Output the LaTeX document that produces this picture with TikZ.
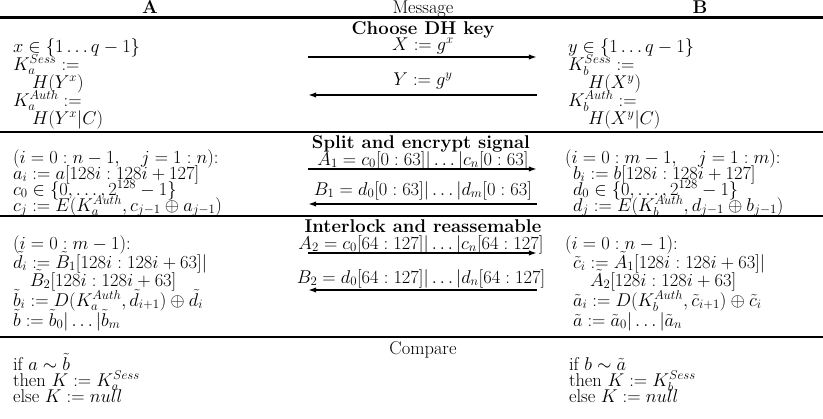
\documentclass[tikz,border=0pt]{standalone}
\usepackage{amsmath}
\usetikzlibrary{arrows.meta}
\begin{document}
\begin{tikzpicture}[x=0.935pt,y=-0.935pt,
  every node/.style={inner sep=0pt, outer sep=0pt, font=\fontsize{17.28}{21}\selectfont},
  txt/.style={anchor=base west},
  mid/.style={anchor=base},
  hrule/.style={line width=2.3pt},
  msg/.style={line width=1.5pt, -{Latex[length=7.5pt,width=5pt]}},
]
\useasboundingbox (0,0) rectangle (823,419);

% header
\node[mid] (hA) at (150,14) {\textbf{A}};
\node[mid] (hM) at (423,13.5) {Message};
\node[mid] (hB) at (700,14) {\textbf{B}};

% rules
\coordinate (r1l) at (0,17.5); \coordinate (r1r) at (823,17.5);
\coordinate (r2l) at (0,132);  \coordinate (r2r) at (823,132);
\coordinate (r3l) at (0,216);  \coordinate (r3r) at (823,216);
\coordinate (r4l) at (0,337);  \coordinate (r4r) at (823,337);
\draw[hrule] (r1l) -- (r1r);
\draw[hrule] (r2l) -- (r2r);
\draw[hrule] (r3l) -- (r3r);
\draw[hrule] (r4l) -- (r4r);

% ---------- section 1
\node[mid] (t1) at (423,34) {\textbf{Choose DH key}};
\node[mid] (m1) at (423,50) {$X := g^x$};
\coordinate (m1a) at (308,57); \coordinate (m1b) at (537,57);
\draw[msg] (m1a) -- (m1b);
\node[mid] (m2) at (423,85) {$Y := g^y$};
\coordinate (m2a) at (537,95); \coordinate (m2b) at (308,95);
\draw[msg] (m2a) -- (m2b);

\node[txt] (a11) at (13,52)  {$x \in \{1 \ldots q-1\}$};
\node[txt] (a12) at (13,70)  {$K_a^{Sess} :=$};
\node[txt] (a13) at (32,88)  {$H(Y^x)$};
\node[txt] (a14) at (13,106) {$K_a^{Auth} :=$};
\node[txt] (a15) at (32,124) {$H(Y^x|C)$};

\node[txt] (b11) at (568,52)  {$y \in \{1 \ldots q-1\}$};
\node[txt] (b12) at (568,70)  {$K_b^{Sess} :=$};
\node[txt] (b13) at (588,88)  {$H(X^y)$};
\node[txt] (b14) at (568,106) {$K_b^{Auth} :=$};
\node[txt] (b15) at (588,124) {$H(X^y|C)$};

% ---------- section 2
\node[mid] (t2) at (421,148) {\textbf{Split and encrypt signal}};
\node[mid] (m3) at (423,165) {$A_1 = c_0[0:63]|\ldots|c_n[0:63]$};
\coordinate (m3a) at (308,169); \coordinate (m3b) at (537,169);
\draw[msg] (m3a) -- (m3b);
\node[mid] (m4) at (423,195) {$B_1 = d_0[0:63]|\ldots|d_m[0:63]$};
\coordinate (m4a) at (537,204); \coordinate (m4b) at (308,204);
\draw[msg] (m4a) -- (m4b);

\node[txt] (a21) at (13,163) {$(i = 0 : n-1,\quad j = 1 : n)$:};
\node[txt] (a22) at (13,179) {$a_i := a[128i : 128i+127]$};
\node[txt] (a23) at (13,195) {$c_0 \in \{0, \ldots, 2^{128}-1\}$};
\node[txt] (a24) at (13,211) {$c_j := E(K_a^{Auth}, c_{j-1} \oplus a_{j-1})$};

\node[txt] (b21) at (565,163) {$(i = 0 : m-1,\quad j = 1 : m)$:};
\node[txt] (b22) at (573,179) {$b_i := b[128i : 128i+127]$};
\node[txt] (b23) at (573,195) {$d_0 \in \{0, \ldots, 2^{128}-1\}$};
\node[txt] (b24) at (573,211) {$d_j := E(K_b^{Auth}, d_{j-1} \oplus b_{j-1})$};

% ---------- section 3
\node[mid] (t3) at (423,232) {\textbf{Interlock and reassemable}};
\node[mid] (m5) at (421,249) {$A_2 = c_0[64:127]|\ldots|c_n[64:127]$};
\coordinate (m5a) at (308,253); \coordinate (m5b) at (537,253);
\draw[msg] (m5a) -- (m5b);
\node[mid] (m6) at (421,283) {$B_2 = d_0[64:127]|\ldots|d_n[64:127]$};
\coordinate (m6a) at (537,290); \coordinate (m6b) at (308,290);
\draw[msg] (m6a) -- (m6b);

\node[txt] (a31) at (13,249) {$(i = 0 : m-1)$:};
\node[txt] (a32) at (13,268) {$\tilde d_i := \tilde B_1[128i : 128i+63]|$};
\node[txt] (a33) at (30,286) {$\tilde B_2[128i : 128i+63]$};
\node[txt] (a34) at (13,306) {$\tilde b_i := D(K_a^{Auth}, \tilde d_{i+1}) \oplus \tilde d_i$};
\node[txt] (a35) at (13,326) {$\tilde b := \tilde b_0|\ldots|\tilde b_m$};

\node[txt] (b31) at (565,249) {$(i = 0 : n-1)$:};
\node[txt] (b32) at (573,268) {$\tilde c_i := \tilde A_1[128i : 128i+63]|$};
\node[txt] (b33) at (590,286) {$\tilde A_2[128i : 128i+63]$};
\node[txt] (b34) at (573,306) {$\tilde a_i := D(K_b^{Auth}, \tilde c_{i+1}) \oplus \tilde c_i$};
\node[txt] (b35) at (573,326) {$\tilde a := \tilde a_0|\ldots|\tilde a_n$};

% ---------- section 4
\node[mid] (t4) at (423,354) {Compare};
\node[txt] (a41) at (13,370) {if $a \sim \tilde b$};
\node[txt] (a42) at (13,386) {then $K := K_a^{Sess}$};
\node[txt] (a43) at (13,402) {else $K := null$};

\node[txt] (b41) at (569,370) {if $b \sim \tilde a$};
\node[txt] (b42) at (569,386) {then $K := K_b^{Sess}$};
\node[txt] (b43) at (569,402) {else $K := null$};
\end{tikzpicture}
\end{document}
